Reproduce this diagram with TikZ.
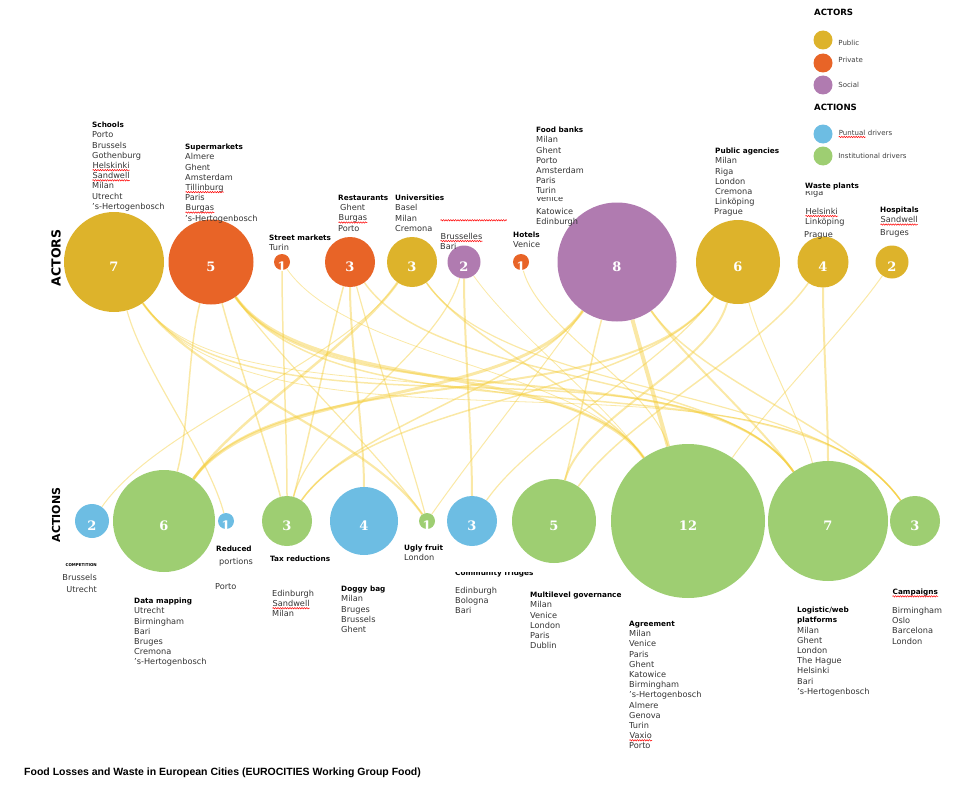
\documentclass[tikz,border=0pt]{standalone}
\usepackage{fontspec}
\setmainfont{DejaVu Sans}
\newfontfamily\numfont[BoldFont={DejaVu Serif Bold}]{DejaVu Serif}
\newfontfamily\titlefont{Liberation Sans}
\usetikzlibrary{positioning,decorations.pathmorphing}

\definecolor{public}{HTML}{DDB32B}
\definecolor{private}{HTML}{E86427}
\definecolor{social}{HTML}{B07BB0}
\definecolor{puntual}{HTML}{6DBDE3}
\definecolor{institutional}{HTML}{9ECE72}
\definecolor{linkyellow}{HTML}{F4CD3A}

% red spell-check wave under a word
\newcommand\typo[1]{\tikz[baseline=(typoword.base)]{\node[inner sep=0pt,anchor=base west] (typoword) {#1};
	\draw[red,line width=.5pt,decorate,decoration={snake,amplitude=.7pt,segment length=2.4pt}]
	([yshift=-1.6pt]typoword.base west) -- ([yshift=-1.6pt]typoword.base east);}}
\newcommand\hdr[1]{{\fontsize{7.3}{10.2}\selectfont\bfseries\color{black}#1}}

\pgfdeclarelayer{bg}
\pgfsetlayers{bg,main}

\begin{document}
\begin{tikzpicture}[x=1pt,y=-1pt,
	bubble/.style={circle,inner sep=0pt},
	num/.style={inner sep=0pt,yshift=-5pt,text=white,font=\numfont\bfseries\fontsize{13}{13}\selectfont},
	key/.style={circle,inner sep=0pt,minimum size=19pt},
	keytext/.style={inner sep=0pt,text=black!75,font=\fontsize{7}{8}\selectfont},
	city/.style={anchor=north west,align=left,inner sep=0pt,text=black!80,font=\fontsize{8.2}{10.2}\selectfont},
	link/.style={draw=linkyellow,draw opacity=.45,out=-90,in=90,looseness=.7},
	rightish/.style={out=-75,in=105},
	farright/.style={out=-55,in=125},
	leftish/.style={out=-105,in=75},
	farleft/.style={out=-125,in=55}]
	\useasboundingbox (0,0) rectangle (959,792);

	% actors
	\node[bubble,fill=public,minimum size=100pt,label={[num]center:7}] (schools) at (114,262) {};
	\node[bubble,fill=private,minimum size=85pt,label={[num]center:5}] (supermkt) at (211,262) {};
	\node[bubble,fill=private,minimum size=16pt,label={[num]center:1}] (streetmkt) at (282,262) {};
	\node[bubble,fill=private,minimum size=50pt,label={[num]center:3}] (restaurants) at (350,262) {};
	\node[bubble,fill=public,minimum size=50pt,label={[num]center:3}] (univ) at (412,262) {};
	\node[bubble,fill=social,minimum size=33pt,label={[num]center:2}] (social) at (464,262) {};
	\node[bubble,fill=private,minimum size=16pt,label={[num]center:1}] (hotels) at (521,262) {};
	\node[bubble,fill=social,minimum size=119pt,label={[num]center:8}] (foodbanks) at (617,262) {};
	\node[bubble,fill=public,minimum size=84pt,label={[num]center:6}] (pubagency) at (738,262) {};
	\node[bubble,fill=public,minimum size=51pt,label={[num]center:4}] (waste) at (823,262) {};
	\node[bubble,fill=public,minimum size=33pt,label={[num]center:2}] (hospitals) at (892,262) {};

	% actions
	\node[bubble,fill=puntual,minimum size=34pt,label={[num]center:2}] (compet) at (92,521) {};
	\node[bubble,fill=institutional,minimum size=102pt,label={[num]center:6}] (datamap) at (164,521) {};
	\node[bubble,fill=puntual,minimum size=16pt,label={[num]center:1}] (reduced) at (226,521) {};
	\node[bubble,fill=institutional,minimum size=50pt,label={[num]center:3}] (taxred) at (287,521) {};
	\node[bubble,fill=puntual,minimum size=68pt,label={[num]center:4}] (doggy) at (364,521) {};
	\node[bubble,fill=institutional,minimum size=16pt,label={[num]center:1}] (ugly) at (427,521) {};
	\node[bubble,fill=puntual,minimum size=50pt,label={[num]center:3}] (fridges) at (472,521) {};
	\node[bubble,fill=institutional,minimum size=84pt,label={[num]center:5}] (multigov) at (554,521) {};
	\node[bubble,fill=institutional,minimum size=154pt,label={[num]center:12}] (agree) at (688,521) {};
	\node[bubble,fill=institutional,minimum size=120pt,label={[num]center:7}] (logistic) at (828,521) {};
	\node[bubble,fill=institutional,minimum size=50pt,label={[num]center:3}] (campaigns) at (915,521) {};

	% who does what
	\begin{pgfonlayer}{bg}
	\path[every edge/.style={link}]
	(schools) edge[rightish,line width=1.2pt] (reduced)
	          edge[farright,line width=2.2pt] (ugly)
	          edge[farright,line width=.8pt] (agree)
	          edge[farright,line width=1.5pt] (logistic)
	          edge[farright,line width=.8pt] (campaigns)
	(supermkt) edge[leftish,line width=1.5pt] (datamap)
	           edge[rightish,line width=1.5pt] (taxred)
	           edge[farright,line width=1.2pt] (ugly)
	           edge[farright,line width=3pt] (agree)
	           edge[farright,line width=2pt] (logistic)
	           edge[farright,line width=1.5pt] (campaigns)
	(streetmkt) edge[line width=1.5pt] (taxred)
	            edge[farright,line width=.8pt] (agree)
	(restaurants) edge[leftish,line width=1.5pt] (taxred)
	              edge[line width=2pt] (doggy)
	              edge[rightish,line width=1.2pt] (ugly)
	              edge[farright,line width=1.5pt] (logistic)
	(univ) edge[farleft,line width=2.5pt] (datamap)
	       edge[farleft,line width=1pt] (compet)
	       edge[farright,line width=1.5pt] (agree)
	       edge[farright,line width=1.2pt] (campaigns)
	(social) edge[line width=2pt] (fridges)
	         edge[leftish,line width=1.2pt] (taxred)
	         edge[farright,line width=.8pt] (agree)
	(hotels) edge[rightish,line width=1pt] (agree)
	(foodbanks) edge[farleft,line width=3pt] (datamap)
	            edge[farleft,line width=1.5pt] (taxred)
	            edge[farleft,line width=1pt] (ugly)
	            edge[leftish,line width=1.5pt] (multigov)
	            edge[rightish,line width=4pt] (agree)
	            edge[farright,line width=2pt] (logistic)
	            edge[farright,line width=1.5pt] (campaigns)
	(pubagency) edge[farleft,line width=2pt] (datamap)
	            edge[farleft,line width=1.5pt] (taxred)
	            edge[farleft,line width=1.2pt] (fridges)
	            edge[leftish,line width=2pt] (multigov)
	            edge[rightish,line width=1pt] (logistic)
	(waste) edge[line width=2pt] (logistic)
	        edge[farleft,line width=1.5pt] (multigov)
	(hospitals) edge[farleft,line width=1pt] (agree);
	\end{pgfonlayer}

	% row titles
	\node[rotate=90,font=\bfseries\fontsize{12.5}{12}\selectfont] (actorsrow) at (56,258) {ACTORS};
	\node[rotate=90,font=\bfseries\fontsize{11}{11}\selectfont] (actionsrow) at (56,515) {ACTIONS};

	% actor cities
	\node[city] (schoolsl) at (92,122) {\hdr{Schools}\\Porto\\Brussels\\Gothenburg\\\typo{Helskinki}\\\typo{Sandwell}\\Milan\\Utrecht\\’s-Hertogenbosch};
	\node[city] (supermktl) at (185,144) {\hdr{Supermarkets}\\Almere\\Ghent\\Amsterdam\\\typo{Tillinburg}\\Paris\\\typo{Burgas}\\’s-Hertogenbosch};
	\node[city] (streetmktl) at (269,235) {\hdr{Street markets}\\Turin};
	\node[city] (restaurantsl) at (338,195) {\hdr{Restaurants}\\\hspace{2pt}Ghent\\\typo{Burgas}\\Porto};
	\begin{scope}
		\clip (390,190) rectangle (450,233);
		\node[city] (univl) at (395,195) {\hdr{Universities}\\Basel\\Milan\\Cremona};
	\end{scope}
	\node[city] (sociall) at (440,218) {\typo{\hbox to 66pt{\hfil}}};
	\node[city] (socialc) at (440,233) {\typo{Brusselles}\\Bari};
	\node[city] (hotelsl) at (513,232) {\hdr{Hotels}\\Venice};
	\node[city] (foodbanksl) at (536,127) {\hdr{Food banks}\\Milan\\Ghent\\Porto\\Amsterdam\\Paris\\Turin};
	\begin{scope}
		\clip (530,197.5) rectangle (600,206);
		\node[city] (foodbanksv) at (536,195) {Venice};
	\end{scope}
	\node[city] (foodbanksk) at (536,208) {Katowice\\Edinburgh};
	\node[city] (pubagencyl) at (715,148) {\hdr{Public agencies}\\Milan\\Riga\\London\\Cremona\\Linköping};
	\node[city] (pubagencyp) at (714,208) {Prague};
	\node[city] (wastel) at (805,183) {\hdr{Waste plants}};
	\begin{scope}
		\clip (800,191) rectangle (840,198);
		\node[city] (waster) at (805,189) {Riga};
	\end{scope}
	\node[city] (wastec) at (805,208) {\typo{Helsinki}\\Linköping};
	\node[city] (wastep) at (804,231) {Prague};
	\node[city] (hospitalsl) at (880,207) {\hdr{Hospitals}\\\typo{Sandwell}};
	\node[city] (hospitalsb) at (880,229) {Bruges};

	% action cities
	\node[city,anchor=north east,align=right] (competl) at (97,563) {{\fontsize{4}{5}\selectfont\bfseries\color{black}COMPETITION}};
	\node[city,anchor=north east,align=right] (competc) at (97,574) {Brussels\\[1.8pt]Utrecht};
	\node[city] (datamapl) at (134,598) {\hdr{Data mapping}\\Utrecht\\Birmingham\\Bari\\Bruges\\Cremona\\’s-Hertogenbosch};
	\node[city] (reducedl) at (216,546) {\hdr{Reduced}\\[2.5pt]\hspace{3pt}portions};
	\node[city] (reducedp) at (215,583) {Porto};
	\node[city] (taxredl) at (270,556) {\hdr{Tax reductions}};
	\node[city] (taxredc) at (272,590) {Edinburgh\\\typo{Sandwell}\\Milan};
	\node[city] (doggyl) at (341,586) {\hdr{Doggy bag}\\Milan\\Bruges\\Brussels\\Ghent};
	\node[city] (uglyl) at (404,545) {\hdr{Ugly fruit}\\London};
	\begin{scope}
		\clip (450,572) rectangle (545,580);
		\node[city] (fridgesl) at (455,570) {\hdr{Community fridges}};
	\end{scope}
	\node[city] (fridgesc) at (455,587) {Edinburgh\\Bologna\\Bari};
	\node[city] (multigovl) at (530,592) {\hdr{Multilevel governance}\\Milan\\Venice\\London\\Paris\\Dublin};
	\node[city] (agreel) at (629,621) {\hdr{Agreement}\\Milan\\Venice\\Paris\\Ghent\\Katowice\\Birmingham\\’s-Hertogenbosch\\Almere\\Genova\\Turin\\\typo{Vaxio}\\Porto};
	\node[city] (logisticl) at (797,607) {\hdr{Logistic/web}\\\hdr{platforms}\\Milan\\Ghent\\London\\The Hague\\Helsinki\\Bari\\’s-Hertogenbosch};
	\node[city] (campaignsl) at (892,589) {\hdr{\typo{Campaigns}}};
	\node[city] (campaignsc) at (892,607) {Birmingham\\Oslo\\Barcelona\\London};

	% key
	\node[anchor=west,inner sep=0pt,font=\bfseries\fontsize{8.6}{10}\selectfont] (actorskey) at (814,12) {ACTORS};
	\node[key,fill=public] (kpublic) at (823,40) {};
	\node[key,fill=private] (kprivate) at (823,63) {};
	\node[key,fill=social] (ksocial) at (823,85) {};
	\node[keytext,right=5.5pt of kpublic,yshift=-3pt] (tpublic) {Public};
	\node[keytext,right=5.5pt of kprivate,yshift=3pt] (tprivate) {Private};
	\node[keytext,right=5.5pt of ksocial] (tsocial) {Social};
	\node[anchor=west,inner sep=0pt,font=\bfseries\fontsize{8.6}{10}\selectfont] (actionskey) at (814,107) {ACTIONS};
	\node[key,fill=puntual] (kpuntual) at (823,134) {};
	\node[key,fill=institutional] (kinstit) at (823,156) {};
	\node[keytext,right=5.5pt of kpuntual] (tpuntual) {\typo{Puntual} drivers};
	\node[keytext,right=5.5pt of kinstit] (tinstit) {Institutional drivers};

	\node[anchor=west,inner sep=0pt,font=\titlefont\bfseries\fontsize{10.5}{12}\selectfont] (title) at (24,773) {Food Losses and Waste in European Cities (EUROCITIES Working Group Food)};
\end{tikzpicture}
\end{document}
